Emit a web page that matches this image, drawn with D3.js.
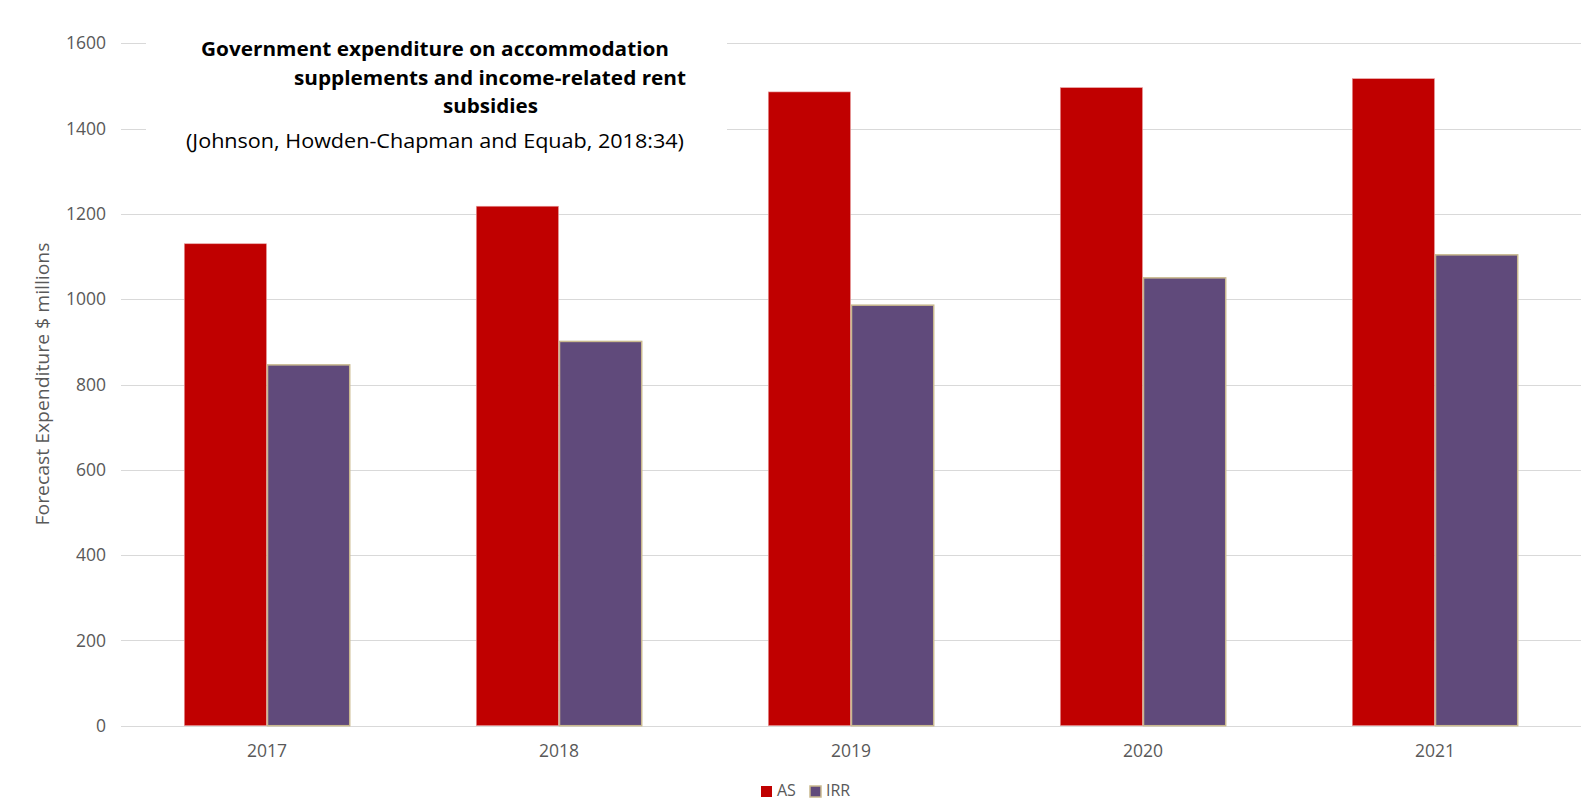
<!DOCTYPE html>
<html>
<head>
<meta charset="utf-8">
<script src="https://cdn.jsdelivr.net/npm/d3@7"></script>
<style>
    body { margin: 0; background: #fff; }
    text { font-family: "Open Sans", "Noto Sans", sans-serif; }
</style>
</head>
<body>
<div class="chart"></div>
<script>
// data
const years = ["2017", "2018", "2019", "2020", "2021"];
const seriesNames = ["AS", "IRR"];
const asValues = [1130, 1218, 1486, 1496, 1517];
const irrValues = [846, 901, 986, 1050, 1104];
const yTicks = [0, 200, 400, 600, 800, 1000, 1200, 1400, 1600];

const titleLines = [
    "Government expenditure on accommodation",
    "supplements and income-related rent",
    "subsidies"
];
const subtitle = "(Johnson, Howden-Chapman and Equab, 2018:34)";

function drawChart() {
    var width = 1586;
    var height = 801;

    var colors = { AS: "#c00000", IRR: "#604a7b" };

    var svg = d3.select(".chart")
        .append("svg")
        .attr("width", width)
        .attr("height", height);

    var x = d3.scaleBand()
        .domain(years)
        .range([121, 1581])
        .paddingInner(0.43)
        .paddingOuter(0.215);

    var xSub = d3.scaleBand()
        .domain(seriesNames)
        .range([0, x.bandwidth()]);

    var y = d3.scaleLinear()
        .domain([0, 1600])
        .range([725.7, 43.3]);

    // gridlines
    svg.append("g")
        .selectAll("line")
        .data(yTicks)
        .join("line")
        .attr("x1", 121)
        .attr("x2", 1581)
        .attr("y1", d => Math.round(y(d)) + 0.5)
        .attr("y2", d => Math.round(y(d)) + 0.5)
        .style("stroke", "#d9d9d9")
        .style("stroke-width", 1);

    // y tick labels
    svg.append("g")
        .selectAll("text")
        .data(yTicks)
        .join("text")
        .attr("x", 106)
        .attr("y", d => y(d))
        .attr("dy", "0.35em")
        .attr("text-anchor", "end")
        .style("font-size", "17.5px")
        .style("fill", "#595959")
        .text(d => d);

    // x labels
    svg.append("g")
        .selectAll("text")
        .data(years)
        .join("text")
        .attr("x", d => x(d) + x.bandwidth() / 2)
        .attr("y", 751)
        .attr("dy", "0.35em")
        .attr("text-anchor", "middle")
        .style("font-size", "17.5px")
        .style("fill", "#595959")
        .text(d => d);

    // y axis title
    svg.append("text")
        .attr("transform", "translate(43,384) rotate(-90)")
        .attr("text-anchor", "middle")
        .attr("dy", "0.35em")
        .attr("textLength", 283)
        .attr("lengthAdjust", "spacingAndGlyphs")
        .style("font-size", "18.5px")
        .style("fill", "#595959")
        .text("Forecast Expenditure $ millions");

    // bars
    var rows = years.map((yr, i) => ({ year: yr, AS: asValues[i], IRR: irrValues[i] }));

    var groups = svg.append("g")
        .selectAll("g")
        .data(rows)
        .join("g")
        .attr("transform", d => `translate(${x(d.year)},0)`);

    groups.selectAll("rect")
        .data(d => seriesNames.map(key => ({ key: key, value: d[key] })))
        .join("rect")
        .attr("x", d => xSub(d.key) + 0.5)
        .attr("y", d => y(d.value))
        .attr("width", xSub.bandwidth() - 1)
        .attr("height", d => y(0) - y(d.value))
        .style("fill", d => colors[d.key])
        .style("stroke", d => d.key == "IRR" ? "#c9b98f" : "#e8a0a0")
        .style("stroke-width", d => d.key == "IRR" ? 1.5 : 0.6);

    // title box sits over the top gridlines
    svg.append("rect")
        .attr("x", 146)
        .attr("y", 32)
        .attr("width", 581)
        .attr("height", 126)
        .style("fill", "#fff");

    var titleX = [201, 294, 443];
    var titleW = [468, 392, 95];
    var titleY = [56, 85, 113];

    svg.append("g")
        .selectAll("text")
        .data(titleLines)
        .join("text")
        .attr("x", (d, i) => titleX[i])
        .attr("y", (d, i) => titleY[i])
        .attr("textLength", (d, i) => titleW[i])
        .attr("lengthAdjust", "spacingAndGlyphs")
        .style("font-size", "20px")
        .style("font-weight", "bold")
        .style("fill", "#000")
        .text(d => d);

    svg.append("text")
        .attr("x", 186)
        .attr("y", 148)
        .attr("textLength", 498)
        .attr("lengthAdjust", "spacingAndGlyphs")
        .style("font-size", "20px")
        .style("fill", "#000")
        .text(subtitle);

    // legend, nudged up so it stays inside the frame
    var legendX = { AS: 761, IRR: 810 };
    var legend = svg.append("g")
        .selectAll("g")
        .data(seriesNames)
        .join("g")
        .attr("transform", d => `translate(${legendX[d]},786)`);

    legend.append("rect")
        .attr("y", 0)
        .attr("width", 11)
        .attr("height", 11)
        .style("fill", d => colors[d])
        .style("stroke", d => d == "IRR" ? "#c9b98f" : "none")
        .style("stroke-width", 1.5);

    legend.append("text")
        .attr("x", 16)
        .attr("y", 10)
        .style("font-size", "16px")
        .style("fill", "#595959")
        .text(d => d);
}

drawChart();
</script>
</body>
</html>
